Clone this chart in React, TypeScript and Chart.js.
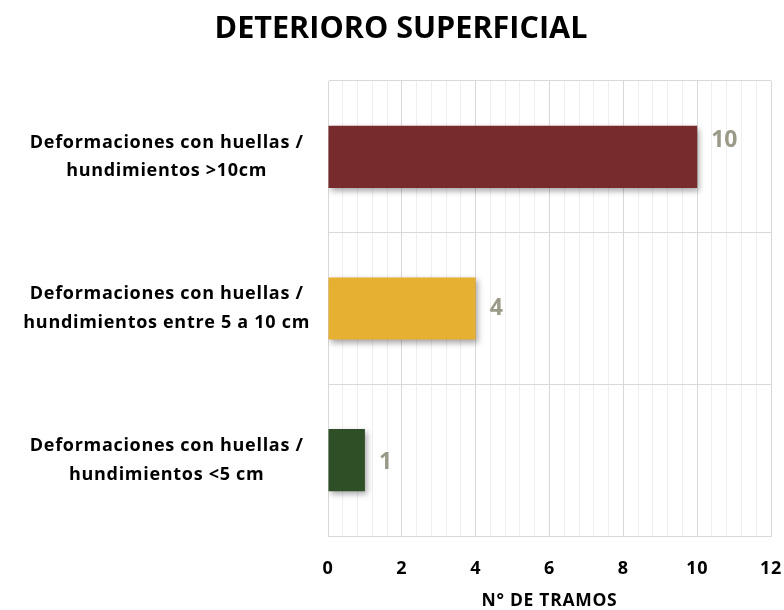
import React, { useEffect, useRef } from "react";
import { Chart, registerables } from "chart.js";

Chart.register(...registerables);

const categories: string[][] = [
  ["Deformaciones con huellas /", "hundimientos >10cm"],
  ["Deformaciones con huellas /", "hundimientos entre 5 a 10 cm"],
  ["Deformaciones con huellas /", "hundimientos <5 cm"],
];
const values: number[] = [10, 4, 1];
const barColors: string[] = ["#772B2C", "#E6B032", "#2F4F27"];
const chartTitle = "DETERIORO SUPERFICIAL";
const xAxisTitle = "N° DE TRAMOS";
const xMin = 0;
const xMax = 12;
const majorStep = 2;
const minorStep = 0.4;

const FONT = '"Open Sans", "DejaVu Sans", sans-serif';
const SPACING = "0.7px";

const isMajor = (v: number) => Math.abs(v / majorStep - Math.round(v / majorStep)) < 1e-6;

const decorPlugin = {
  id: "decor",
  beforeLayout(chart: any) {
    (chart.ctx as any).letterSpacing = SPACING;
  },
  beforeDraw(chart: any) {
    (chart.ctx as any).letterSpacing = SPACING;
  },
  beforeDatasetsDraw(chart: any) {
    const ctx = chart.ctx;
    ctx.save();
    ctx.shadowColor = "rgba(0,0,0,0.35)";
    ctx.shadowBlur = 6;
    ctx.shadowOffsetX = 2;
    ctx.shadowOffsetY = 3;
  },
  afterDatasetsDraw(chart: any, _args: any, opts: any) {
    const ctx = chart.ctx;
    ctx.restore();
    const meta = chart.getDatasetMeta(0);
    const ds = chart.data.datasets[0];
    ctx.save();
    ctx.letterSpacing = "0px";
    ctx.font = `bold 23px ${FONT}`;
    ctx.fillStyle = "#9B9A88";
    ctx.textAlign = "left";
    ctx.textBaseline = "middle";
    meta.data.forEach((bar: any, i: number) => {
      const dy = (opts.offsets && opts.offsets[i]) || 0;
      ctx.fillText(String(ds.data[i]), bar.x + 14, bar.y + dy);
    });
    ctx.restore();
  },
  afterDraw(chart: any) {
    const ctx = chart.ctx;
    ctx.save();
    ctx.letterSpacing = "0px";
    let size = 28;
    ctx.font = `bold ${size}px ${FONT}`;
    const w = ctx.measureText(chartTitle).width;
    size = size * (373 / w);
    ctx.font = `bold ${size}px ${FONT}`;
    ctx.fillStyle = "#000";
    ctx.textAlign = "center";
    ctx.textBaseline = "middle";
    ctx.fillText(chartTitle, 401, 29);
    ctx.restore();
  },
};

export default function App() {
  const ref = useRef<HTMLCanvasElement | null>(null);

  useEffect(() => {
    if (!ref.current) return;
    const chart = new Chart(ref.current, {
      type: "bar",
      data: {
        labels: categories,
        datasets: [
          {
            data: values,
            backgroundColor: barColors,
            borderWidth: 0,
            barPercentage: 0.41,
            categoryPercentage: 1,
          },
        ],
      },
      options: {
        indexAxis: "y",
        animation: false,
        responsive: true,
        maintainAspectRatio: false,
        layout: { padding: { top: 81, right: 13, left: 0, bottom: 0 } },
        plugins: {
          legend: { display: false },
          tooltip: { enabled: false },
          title: { display: false },
          decor: { offsets: [-16, 0, 2] },
        } as any,
        scales: {
          x: {
            type: "linear",
            min: xMin,
            max: xMax,
            afterFit: (s: any) => {
              s.height = 74;
              s.paddingLeft = 0;
              s.paddingRight = 0;
            },
            ticks: {
              stepSize: minorStep,
              maxTicksLimit: 100,
              autoSkip: false,
              maxRotation: 0,
              padding: 22,
              color: "#000",
              font: { family: FONT, size: 18, weight: "bold" },
              callback: (v: any) => (isMajor(Number(v)) ? String(Math.round(Number(v))) : ""),
            },
            grid: {
              drawTicks: false,
              color: (c: any) => (c.tick && isMajor(c.tick.value) ? "#D9D9D9" : "#EFEFEF"),
              lineWidth: 1,
            },
            border: { display: true, color: "#D9D9D9" },
            title: {
              display: true,
              text: xAxisTitle,
              color: "#000",
              font: { family: FONT, size: 17.5, weight: "bold", lineHeight: 1 },
              padding: { top: 0, bottom: 0 },
            },
          },
          y: {
            afterFit: (s: any) => {
              s.width = 328;
            },
            ticks: {
              crossAlign: "center",
              padding: 18,
              color: "#000",
              font: { family: FONT, size: 18, weight: "bold", lineHeight: 1.6 },
            },
            grid: { drawTicks: false, color: "#D9D9D9", offset: true },
            border: { display: true, color: "#D9D9D9" },
          },
        },
      } as any,
      plugins: [decorPlugin],
    });
    return () => chart.destroy();
  }, []);

  return (
    <div style={{ position: "absolute", left: 0, top: 0, width: 784, height: 610, background: "#fff" }}>
      <canvas ref={ref} />
    </div>
  );
}
